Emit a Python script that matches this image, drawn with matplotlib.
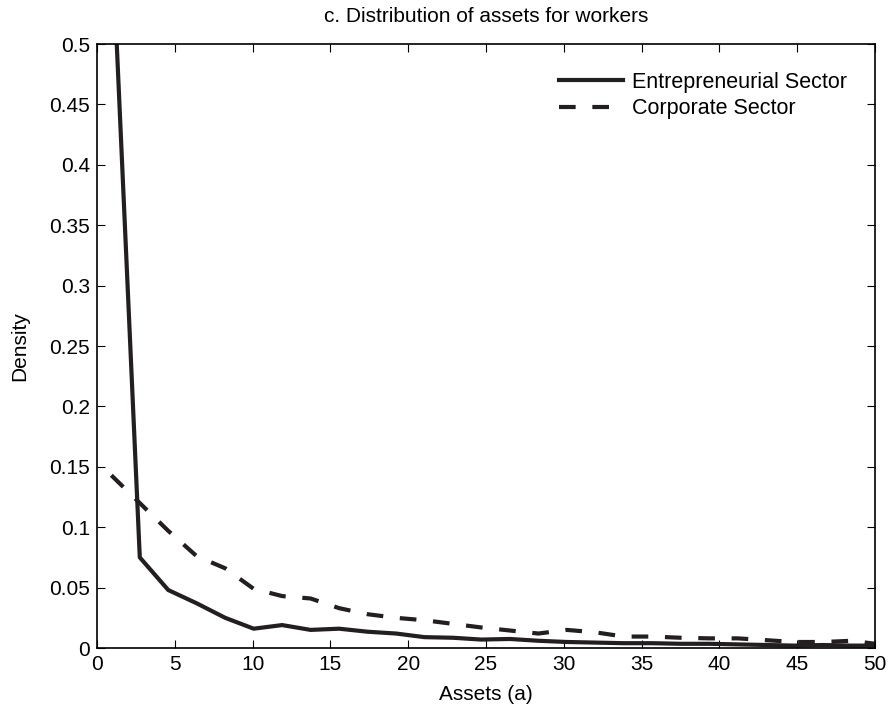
import matplotlib
matplotlib.use("Agg")
import matplotlib.pyplot as plt
import numpy as np

plt.rcParams['font.family'] = ['Liberation Sans', 'DejaVu Sans']

# asset grid (bin centres)
assets = [0.92, 2.75, 4.58, 6.41, 8.24, 10.07, 11.9, 13.73, 15.56, 17.39,
          19.22, 21.05, 22.88, 24.71, 26.54, 28.37, 30.2, 32.03, 33.86, 35.69,
          37.52, 39.35, 41.18, 43.01, 44.84, 46.67, 48.5, 50.33]

entrepreneurial = [0.6, 0.075, 0.048, 0.037, 0.025, 0.016, 0.019, 0.015, 0.016, 0.0135,
                   0.012, 0.009, 0.0085, 0.007, 0.0075, 0.006, 0.005, 0.0045, 0.004, 0.004,
                   0.0035, 0.0035, 0.003, 0.0025, 0.002, 0.0025, 0.002, 0.002]

corporate = [0.143, 0.12, 0.097, 0.076, 0.066, 0.049, 0.043, 0.041, 0.033, 0.028,
             0.025, 0.023, 0.020, 0.017, 0.0145, 0.012, 0.015, 0.013, 0.0095, 0.0095,
             0.0085, 0.008, 0.008, 0.0065, 0.005, 0.005, 0.006, 0.003]

xticks = np.arange(0, 51, 5)
yticks = np.arange(0, 0.51, 0.05)
ytick_labels = ['0', '0.05', '0.1', '0.15', '0.2', '0.25', '0.3', '0.35', '0.4', '0.45', '0.5']

fig = plt.figure(figsize=(8.9, 7.17), dpi=100)
ax = fig.add_axes([0.109, 0.0962, 0.874, 0.8424])

ax.plot(assets, entrepreneurial, color='#231f20', lw=3, label='Entrepreneurial Sector')
ax.plot(assets, corporate, color='#231f20', lw=3, dashes=(4, 4), label='Corporate Sector')

ax.set_xlim(0, 50)
ax.set_ylim(0, 0.5)
ax.set_xticks(xticks)
ax.set_yticks(yticks)
ax.set_yticklabels(ytick_labels)
ax.tick_params(direction='in', top=True, right=True, labelsize=15, length=6, width=0.8, pad=5)
for s in ax.spines.values():
    s.set_linewidth(1.2)

ax.set_xlabel('Assets (a)', fontsize=15, labelpad=8)
ax.set_ylabel('Density', fontsize=15, labelpad=14)
ax.set_title('c. Distribution of assets for workers', fontsize=15, pad=16)

ax.legend(loc='upper right', frameon=False, fontsize=15.5, handlelength=3.0,
          borderaxespad=0.9, labelspacing=0.25, handletextpad=0.4)

fig.savefig('out.png', dpi=100)
